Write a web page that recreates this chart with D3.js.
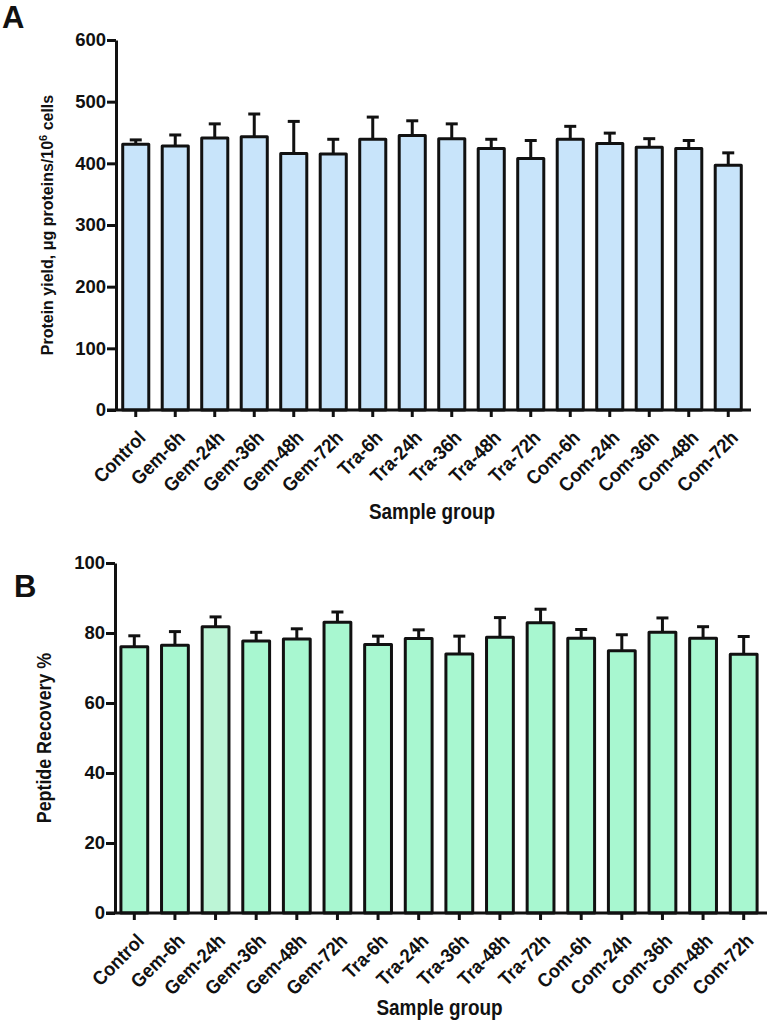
<!DOCTYPE html>
<html>
<head>
<meta charset="utf-8">
<script src="https://cdn.jsdelivr.net/npm/d3@7/dist/d3.min.js"></script>
<style>
  html, body { margin: 0; padding: 0; background: #fff; }
  text { font-family: "Liberation Sans", Arial, sans-serif; font-weight: bold; fill: #111; }
</style>
</head>
<body>
<svg id="chart" width="768" height="1020"></svg>
<script>
const categories = ["Control","Gem-6h","Gem-24h","Gem-36h","Gem-48h","Gem-72h","Tra-6h","Tra-24h","Tra-36h","Tra-48h","Tra-72h","Com-6h","Com-24h","Com-36h","Com-48h","Com-72h"];

const proteinYield = [431, 428, 441, 443, 416, 415, 439, 445, 440, 424, 408, 439, 432, 426, 424, 397];
const proteinErr   = [7, 18, 23, 37, 52, 24, 36, 24, 24, 15, 29, 21, 17, 14, 13, 20];
const proteinTicks = [0, 100, 200, 300, 400, 500, 600];

const peptideRecovery = [76.1, 76.5, 81.8, 77.7, 78.3, 83.1, 76.7, 78.4, 74.0, 78.8, 82.9, 78.5, 74.9, 80.2, 78.5, 73.9];
const peptideErr      = [3.1, 3.9, 2.8, 2.5, 2.9, 2.9, 2.4, 2.5, 5.1, 5.6, 3.9, 2.5, 4.6, 4.1, 3.3, 5.1];
const peptideTicks = [0, 20, 40, 60, 80, 100];

const svg = d3.select("#chart");

function panel(cfg) {
  const g = svg.append("g");
  const x = d3.scaleBand().domain(categories).range(cfg.xRange).paddingInner(0.34).paddingOuter(0.17);
  const y = d3.scaleLinear().domain(cfg.yDomain).range(cfg.yRange);
  const ink = "#111";

  // bars
  g.selectAll("rect.bar").data(categories).enter().append("rect")
    .attr("x", d => x(d))
    .attr("y", (d, i) => y(cfg.values[i]))
    .attr("width", x.bandwidth())
    .attr("height", (d, i) => y(0) - y(cfg.values[i]))
    .attr("fill", (d, i) => cfg.fills ? cfg.fills[i] : cfg.fill)
    .attr("stroke", ink).attr("stroke-width", 3).attr("stroke-linejoin", "round");

  // error bars
  const eb = g.selectAll("g.err").data(categories).enter().append("g");
  eb.append("line")
    .attr("x1", d => x(d) + x.bandwidth() / 2).attr("x2", d => x(d) + x.bandwidth() / 2)
    .attr("y1", (d, i) => y(cfg.values[i])).attr("y2", (d, i) => y(cfg.values[i] + cfg.errs[i]))
    .attr("stroke", ink).attr("stroke-width", 3);
  eb.append("line")
    .attr("x1", d => x(d) + x.bandwidth() / 2 - 6).attr("x2", d => x(d) + x.bandwidth() / 2 + 6)
    .attr("y1", (d, i) => y(cfg.values[i] + cfg.errs[i])).attr("y2", (d, i) => y(cfg.values[i] + cfg.errs[i]))
    .attr("stroke", ink).attr("stroke-width", 3);

  // y axis
  const yAxis = d3.axisLeft(y).tickValues(cfg.ticks).tickSize(9).tickPadding(1).tickSizeOuter(0);
  const ya = g.append("g").attr("transform", `translate(${cfg.axisX},0)`).call(yAxis);
  ya.select(".domain").attr("stroke", ink).attr("stroke-width", 3);
  ya.selectAll(".tick line").attr("stroke", ink).attr("stroke-width", 3);
  ya.selectAll(".tick text").attr("font-family", "Liberation Sans, Arial, sans-serif")
    .attr("font-weight", "bold").attr("font-size", 18.5).attr("fill", ink);

  // x axis
  const xAxis = d3.axisBottom(x).tickSize(7).tickSizeOuter(0).tickFormat("");
  const xa = g.append("g").attr("transform", `translate(0,${y(0)})`).call(xAxis);
  xa.select(".domain").attr("d", `M${cfg.axisX - 9},0H${cfg.xRange[1] + 3}`).attr("stroke", ink).attr("stroke-width", 3);
  xa.selectAll(".tick line").attr("stroke", ink).attr("stroke-width", 3);

  // x labels
  g.selectAll("text.xl").data(categories).enter().append("text")
    .attr("class", "xl")
    .attr("transform", d => `translate(${x(d) + x.bandwidth() / 2 + 11},${y(0) + 29}) rotate(-45) scale(0.92,1)`)
    .attr("text-anchor", "end")
    .attr("font-size", 19.5)
    .text(d => d);

  // x title
  g.append("text")
    .attr("transform", `translate(${(cfg.axisX + cfg.xRange[1]) / 2},${cfg.xTitleY}) scale(0.88,1)`)
    .attr("text-anchor", "middle").attr("font-size", 21.5)
    .text("Sample group");

  // y title
  const yt = g.append("text")
    .attr("transform", `translate(${cfg.yTitleX},${(cfg.yRange[0] + cfg.yRange[1]) / 2}) rotate(-90) scale(${cfg.yTitleScale},1)`)
    .attr("text-anchor", "middle").attr("font-size", cfg.yTitleSize);
  cfg.yTitle(yt);

  // panel letter
  g.append("text").attr("x", cfg.letterX).attr("y", cfg.letterY)
    .attr("font-size", 31).text(cfg.letter);
}

panel({
  values: proteinYield, errs: proteinErr, ticks: proteinTicks,
  xRange: [116, 748], yDomain: [0, 600], yRange: [410, 40], axisX: 116,
  fill: "#c8e4fa",
  xTitleY: 519, yTitleX: 53, yTitleSize: 16, yTitleScale: 1,
  yTitle: t => {
    t.append("tspan").text("Protein yield, \u03bcg proteins/10");
    t.append("tspan").attr("dy", -6).attr("font-size", 11).text("6");
    t.append("tspan").attr("dy", 6).text(" cells");
  },
  letter: "A", letterX: 2, letterY: 28
});

panel({
  values: peptideRecovery, errs: peptideErr, ticks: peptideTicks,
  xRange: [114, 764], yDomain: [0, 100], yRange: [913, 563], axisX: 115,
  fills: categories.map(c => c === "Gem-24h" ? "#bcf5d6" : "#a8f7d0"),
  xTitleY: 1015, yTitleX: 51, yTitleSize: 21, yTitleScale: 0.85,
  yTitle: t => t.text("Peptide Recovery %"),
  letter: "B", letterX: 14, letterY: 597
});
</script>
</body>
</html>
